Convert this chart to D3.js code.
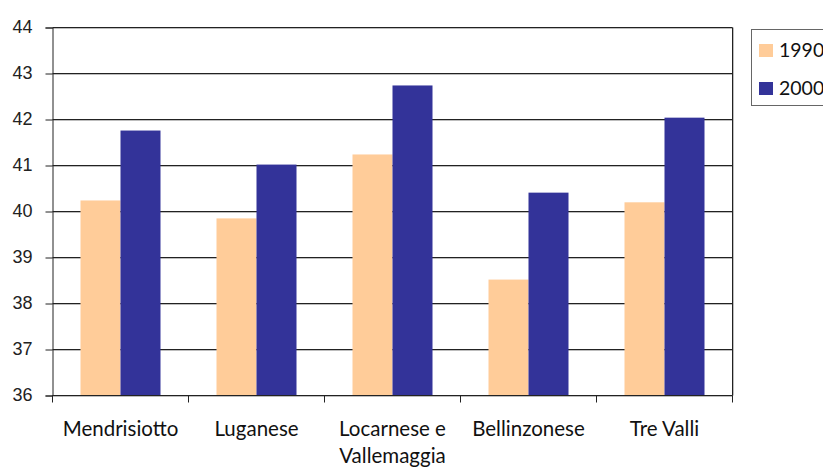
<!DOCTYPE html>
<html>
<head>
<meta charset="utf-8">
<script src="https://cdn.jsdelivr.net/npm/d3@7"></script>
<style>
  html, body { margin: 0; padding: 0; background: #fff; }
  svg { display: block; }
</style>
</head>
<body>
<script>
// Regional values, 1990 vs 2000
const categories = [["Mendrisiotto"], ["Luganese"], ["Locarnese e", "Vallemaggia"], ["Bellinzonese"], ["Tre Valli"]];
const series = ["1990", "2000"];
const values1990 = [40.24, 39.85, 41.24, 38.52, 40.2];
const values2000 = [41.76, 41.02, 42.74, 40.41, 42.04];
const yTicks = [36, 37, 38, 39, 40, 41, 42, 43, 44];
const colors = ["#FFCC99", "#333399"];

const W = 823, H = 468;
const plotLeft = 52.5, plotRight = 732.5, plotTop = 27.5, plotBottom = 395.5;

const svg = d3.select("body").append("svg").attr("width", W).attr("height", H);

const catKeys = categories.map(c => c.join(" "));
const x0 = d3.scaleBand().domain(catKeys).range([plotLeft, plotRight]).padding(0);
const x1 = d3.scaleBand().domain(series).range([0, x0.bandwidth()]).paddingInner(0).paddingOuter(0.7);
const y = d3.scaleLinear().domain([36, 44]).range([plotBottom, plotTop]);

const labelFont = "Lato, 'Open Sans', sans-serif";

// horizontal gridlines with a soft grey shadow underneath
const grid = svg.append("g");
grid.selectAll("line.shadow").data(yTicks).join("line")
  .attr("class", "shadow")
  .attr("x1", plotLeft).attr("x2", plotRight)
  .attr("y1", d => y(d) + 1).attr("y2", d => y(d) + 1)
  .attr("stroke", "#bdbdbd").attr("stroke-width", 1);
grid.selectAll("line.main").data(yTicks).join("line")
  .attr("class", "main")
  .attr("x1", plotLeft).attr("x2", plotRight)
  .attr("y1", d => y(d)).attr("y2", d => y(d))
  .attr("stroke", "#222").attr("stroke-width", 1);

// bars
const rows = catKeys.map((k, i) => ({ key: k, vals: [values1990[i], values2000[i]] }));
const groups = svg.append("g").selectAll("g").data(rows).join("g")
  .attr("transform", d => `translate(${x0(d.key)},0)`);
groups.selectAll("rect").data(d => d.vals.map((v, j) => ({ s: series[j], v, j }))).join("rect")
  .attr("x", d => x1(d.s))
  .attr("width", x1.bandwidth())
  .attr("y", d => y(d.v))
  .attr("height", d => y(36) - y(d.v))
  .attr("fill", d => colors[d.j]);

// right border of plot area
svg.append("line").attr("x1", plotRight + 1).attr("x2", plotRight + 1).attr("y1", plotTop).attr("y2", plotBottom)
  .attr("stroke", "#bdbdbd");
svg.append("line").attr("x1", plotRight).attr("x2", plotRight).attr("y1", plotTop).attr("y2", plotBottom)
  .attr("stroke", "#222");

// y axis
const yAxis = svg.append("g").attr("transform", `translate(${plotLeft},0)`)
  .call(d3.axisLeft(y).tickValues(yTicks).tickSize(7).tickPadding(13).tickFormat(d3.format("d")));
yAxis.select(".domain").attr("stroke", "#222");
yAxis.selectAll(".tick line").attr("stroke", "#222");
yAxis.selectAll(".tick text")
  .attr("font-family", "'Liberation Sans', Arial, sans-serif")
  .attr("font-size", 18).attr("fill", "#222").attr("dy", "0.28em");

// x axis: ticks at category boundaries
const bounds = [plotLeft].concat(catKeys.map(k => x0(k) + x0.bandwidth()));
svg.append("line").attr("x1", plotLeft).attr("x2", plotRight).attr("y1", plotBottom).attr("y2", plotBottom).attr("stroke", "#222");
svg.append("g").selectAll("line").data(bounds).join("line")
  .attr("x1", d => d).attr("x2", d => d).attr("y1", plotBottom).attr("y2", plotBottom + 7)
  .attr("stroke", "#222");

// category labels
const catLabels = svg.append("g").selectAll("text").data(categories).join("text")
  .attr("x", d => x0(d.join(" ")) + x0.bandwidth() / 2)
  .attr("y", 436)
  .attr("text-anchor", "middle")
  .attr("font-family", labelFont).attr("font-size", 20.5).attr("fill", "#111");
catLabels.selectAll("tspan").data(d => d).join("tspan")
  .attr("x", function () { return d3.select(this.parentNode).attr("x"); })
  .attr("dy", (d, i) => i === 0 ? 0 : 27)
  .text(d => d);

// legend
const lg = svg.append("g");
lg.append("rect").attr("x", 751.5).attr("y", 29.5).attr("width", 100).attr("height", 76)
  .attr("fill", "#fff").attr("stroke", "#666");
const items = lg.selectAll("g").data(series).join("g")
  .attr("transform", (d, i) => `translate(759,${44 + i * 38})`);
items.append("rect").attr("width", 14).attr("height", 13).attr("fill", (d, i) => colors[i]);
items.append("text").attr("x", 20).attr("y", 13)
  .attr("font-family", labelFont).attr("font-size", 19.5).attr("fill", "#111")
  .text(d => d);
</script>
</body>
</html>
